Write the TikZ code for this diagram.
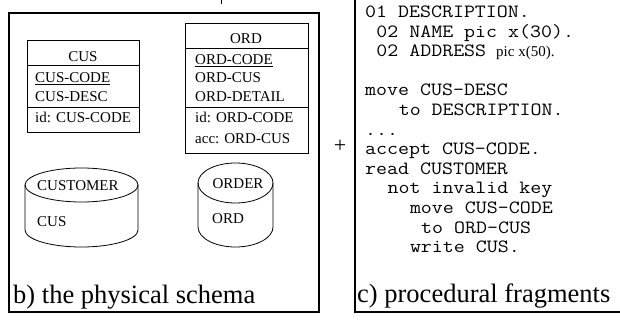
\documentclass[tikz,border=0pt]{standalone}
\usepackage{fontspec}
\setmainfont{Liberation Serif}
\setmonofont[FakeStretch=1.14]{Latin Modern Mono}
\begin{document}
\begin{tikzpicture}[x=1pt,y=-1pt,
  frame/.style={line width=1.8pt},
  tbl/.style={line width=0.8pt},
  lbl/.style={font=\fontsize{15}{18}\selectfont, inner sep=0pt, anchor=base west},
  hdr/.style={font=\fontsize{15}{18}\selectfont, inner sep=0pt, anchor=base},
  codeline/.style={font=\fontsize{18.7}{20}\selectfont\ttfamily, inner sep=0pt, anchor=base west},
  captext/.style={font=\fontsize{26.5}{30}\selectfont, inner sep=0pt, anchor=base west},
]
\useasboundingbox (0,0) rectangle (620,323);
% frames
\draw[frame] (9,13) rectangle (319,312);
\draw[frame] (355,0) |- (620,312);
\draw[line width=0.8pt] (221,0) -- (221,4);
% CUS table
\draw[tbl] (27,40) rectangle (139,132);
\draw[tbl] (27,65) -- (139,65);
\draw[tbl] (27,107) -- (139,107);
\node[hdr] (cush) at (83,62) {CUS};
\node[lbl] (cus1) at (35,83) {\underline{CUS-CODE}};
\node[lbl] (cus2) at (35,102) {CUS-DESC};
\node[lbl] (cus3) at (35,123) {id: CUS-CODE};
% ORD table
\draw[tbl] (185,23) rectangle (308,153);
\draw[tbl] (185,48) -- (308,48);
\draw[tbl] (185,107) -- (308,107);
\node[hdr] (ordh) at (246,44) {ORD};
\node[lbl] (ord1) at (195,65) {\underline{ORD-CODE}};
\node[lbl] (ord2) at (195,83) {ORD-CUS};
\node[lbl] (ord3) at (195,102) {ORD-DETAIL};
\node[lbl] (ord4) at (195,123) {id: ORD-CODE};
\node[lbl] (ord5) at (195,143) {acc: ORD-CUS};
% CUSTOMER cylinder
\draw[tbl] (81.5,185) ellipse[x radius=56.5pt, y radius=17pt];
\draw[tbl] (25,185) -- (25,230) arc[start angle=180, end angle=360, x radius=56.5pt, y radius=17pt] -- (138,185);
\node[lbl] (custname) at (37,190) {CUSTOMER};
\node[lbl] (custrec) at (37,226) {CUS};
% ORDER cylinder
\draw[tbl] (235.5,183) ellipse[x radius=37.5pt, y radius=20pt];
\draw[tbl] (198,183) -- (198,227) arc[start angle=180, end angle=360, x radius=37.5pt, y radius=20pt] -- (273,183);
\node[hdr] (ordname) at (238,188) {ORDER};
\node[lbl] (ordrec) at (212,223) {ORD};
% captions
\node[captext] (capb) at (13,303) {b) the physical schema};
\node[captext] (capc) at (357,302) {c) procedural fragments};
\node[font=\fontsize{22}{24}\selectfont, inner sep=0pt] (plus) at (340,146) {+};
% code
\node[codeline] (c1) at (365,17.5) {01 DESCRIPTION.};
\node[codeline] (c2) at (376.2,37.1) {02 NAME pic x(30).};
\node[codeline] (c3) at (376.2,56.7) {02 ADDRESS};
\node[font=\fontsize{15}{17}\selectfont, inner sep=0pt, anchor=base west] (c3b) at (496,56.7) {pic x(50).};
\node[codeline] (c4) at (365,95.9) {move CUS-DESC};
\node[codeline] (c5) at (398.6,115.5) {to DESCRIPTION.};
\node[codeline] (c6) at (365,135.1) {...};
\node[codeline] (c7) at (365,154.7) {accept CUS-CODE.};
\node[codeline] (c8) at (365,174.3) {read CUSTOMER};
\node[codeline] (c9) at (387.4,193.9) {not invalid key};
\node[codeline] (c10) at (409.8,213.5) {move CUS-CODE};
\node[codeline] (c11) at (421,233.1) {to ORD-CUS};
\node[codeline] (c12) at (409.8,252.7) {write CUS.};
\end{tikzpicture}
\end{document}
